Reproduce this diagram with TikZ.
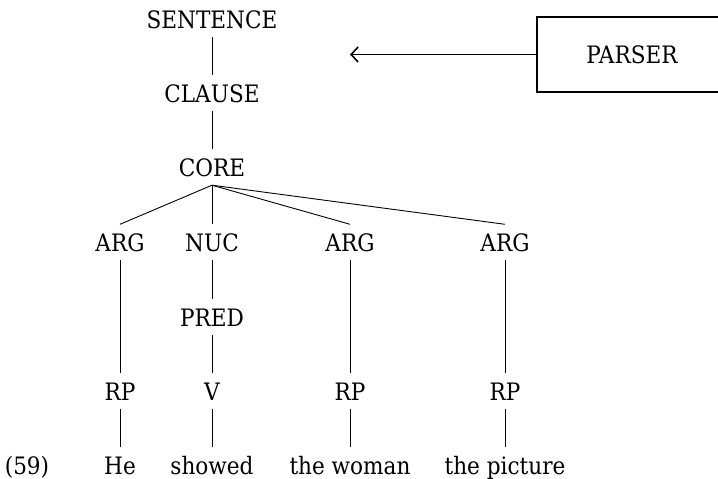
\documentclass[tikz,border=0pt]{standalone}
\usepackage{fontspec}
\setmainfont{DejaVu Serif}[FakeStretch=0.9]
\usetikzlibrary{arrows.meta}
\begin{document}
\begin{tikzpicture}[x=1pt,y=-1pt,
  lbl/.style={anchor=base,inner xsep=2pt,inner ysep=9pt,text height=17.5pt,text depth=0pt,font=\fontsize{24}{28}\selectfont},
  edge/.style={line width=0.9pt},
  frame/.style={draw,line width=1.6pt,minimum width=190pt,minimum height=75pt,inner sep=0pt,font=\fontsize{24}{28}\selectfont}]
\clip (0,0) rectangle (718,479);
% tree nodes (positions given at the text baseline)
\node[lbl] (sent)   at (212,28)  {SENTENCE};
\node[lbl] (clause) at (212,102) {CLAUSE};
\node[lbl] (core)   at (212,176) {CORE};
\node[lbl] (arg1)   at (120,251) {ARG};
\node[lbl] (nuc)    at (212,251) {NUC};
\node[lbl] (arg2)   at (350,251) {ARG};
\node[lbl] (arg3)   at (505,251) {ARG};
\node[lbl] (pred)   at (212,326) {PRED};
\node[lbl] (rp1)    at (120,400) {RP};
\node[lbl] (v)      at (212,400) {V};
\node[lbl] (rp2)    at (350,400) {RP};
\node[lbl] (rp3)    at (505,400) {RP};
\node[lbl] (w1)     at (120,474) {He};
\node[lbl] (w2)     at (212,474) {showed};
\node[lbl] (w3)     at (350,474) {the woman};
\node[lbl] (w4)     at (505,474) {the picture};
\node[lbl] (num)    at (27,474)  {(59)};
% parser box and its arrow
\node[frame] (parser) at (632,54.5) {PARSER};
\coordinate (tip) at (350,54.5);
\draw[line width=1.6pt,-{Straight Barb[length=7pt,width=15pt]}] (parser.west) -- (tip);
% branches
\draw[edge] (sent.south) -- (clause.north);
\draw[edge] (clause.south) -- (core.north);
\draw[edge] (core.south) -- (arg1.north);
\draw[edge] (core.south) -- (nuc.north);
\draw[edge] (core.south) -- (arg2.north);
\draw[edge] (core.south) -- (arg3.north);
\draw[edge] (arg1.south) -- (rp1.north);
\draw[edge] (nuc.south) -- (pred.north);
\draw[edge] (pred.south) -- (v.north);
\draw[edge] (arg2.south) -- (rp2.north);
\draw[edge] (arg3.south) -- (rp3.north);
\draw[edge] (rp1.south) -- (w1.north);
\draw[edge] (v.south) -- (w2.north);
\draw[edge] (rp2.south) -- (w3.north);
\draw[edge] (rp3.south) -- (w4.north);
\end{tikzpicture}
\end{document}
